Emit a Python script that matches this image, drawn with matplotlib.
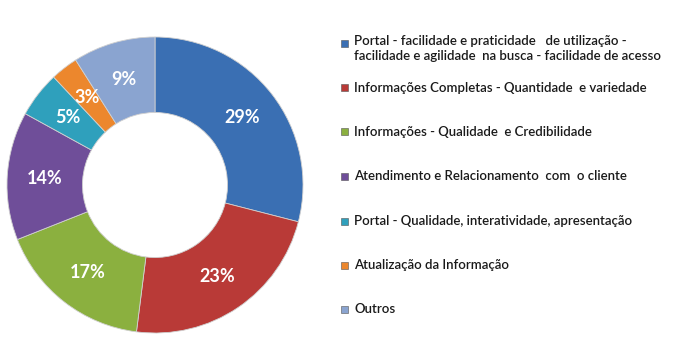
import matplotlib
matplotlib.use("Agg")
import matplotlib.pyplot as plt
from matplotlib.patches import Rectangle

categories = [
    "Portal - facilidade e praticidade   de utilização -\nfacilidade e agilidade  na busca - facilidade de acesso",
    "Informações Completas - Quantidade  e variedade",
    "Informações - Qualidade  e Credibilidade",
    "Atendimento e Relacionamento  com  o cliente",
    "Portal - Qualidade, interatividade, apresentação",
    "Atualização da Informação",
    "Outros",
]
values = [29, 23, 17, 14, 5, 3, 9]
colors = ["#3A6FB3", "#B93A37", "#8BB03F", "#6F4E99", "#2FA0BC", "#EC872D", "#8AA4D0"]

fig = plt.figure(figsize=(6.81, 3.52), dpi=100)
ax = fig.add_axes([7/681, 19/352, 296/681, 296/352])

wedges, texts, autotexts = ax.pie(
    values, colors=colors, startangle=90, counterclock=False,
    radius=1.0, autopct=lambda p: f"{p:.0f}%", pctdistance=0.745,
    wedgeprops=dict(width=0.51, edgecolor="#d0d0d0", linewidth=0.6),
    textprops=dict(color="white", fontsize=13, fontweight="bold", family="Lato"),
)
ax.set_xlim(-1, 1)
ax.set_ylim(-1, 1)
ax.set_aspect("equal")
ax.axis("off")

# Legend
y_centers = [43, 87.5, 132, 176.5, 221, 265, 309]
for cat, col, yc in zip(categories, colors, y_centers):
    fy = 1 - yc / 352
    fig.patches.append(Rectangle((341/681, fy - 3.5/352), 7/681, 7/352,
                                 transform=fig.transFigure, facecolor=col,
                                 edgecolor="#555555", linewidth=0.4))
    if "\n" in cat:
        fig.text(354/681, fy + 8/352, cat, ha="left", va="top",
                 fontsize=9.5, family="Lato", fontweight="semibold",
                 color="#1a1a1a", linespacing=1.3)
    else:
        fig.text(354/681, fy, cat, ha="left", va="center",
                 fontsize=9.5, family="Lato", fontweight="semibold",
                 color="#1a1a1a")

fig.savefig("out.png", dpi=100, facecolor="white")
